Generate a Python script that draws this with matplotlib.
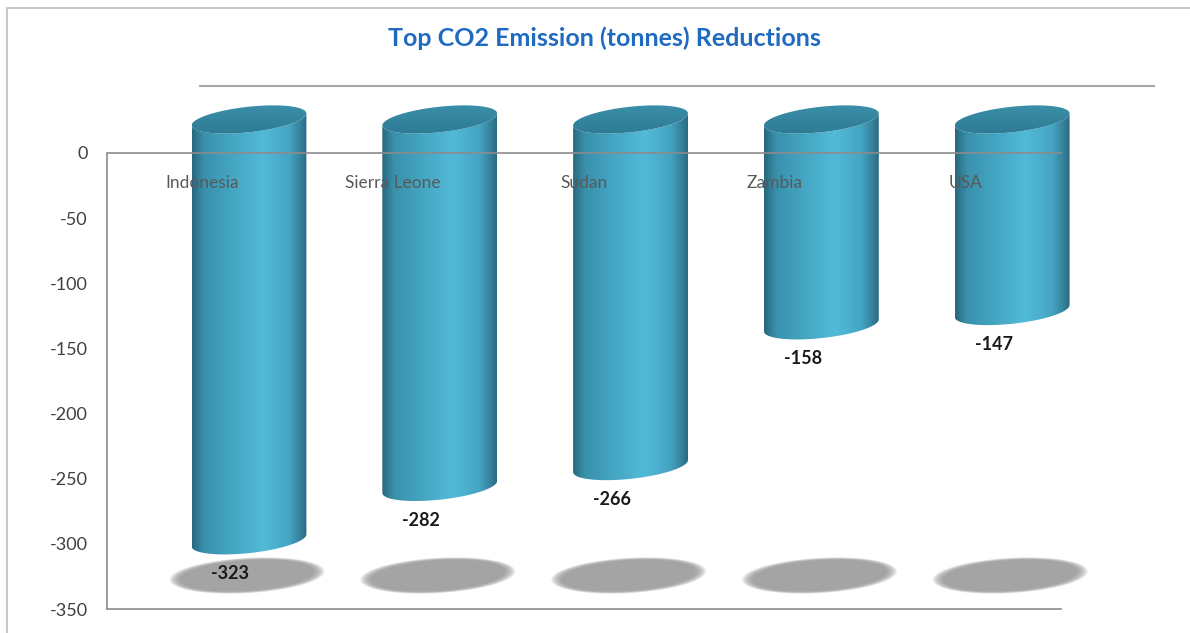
import numpy as np
import matplotlib
matplotlib.use('Agg')
import matplotlib.pyplot as plt
from matplotlib.patches import Polygon, Rectangle
from matplotlib.colors import LinearSegmentedColormap

plt.rcParams['font.family'] = ['Lato', 'DejaVu Sans']

# Data
countries = ['Indonesia', 'Sierra Leone', 'Sudan', 'Zambia', 'USA']
reductions = [-323, -282, -266, -158, -147]
y_ticks = [0, -50, -100, -150, -200, -250, -300, -350]

# 3D look (data units)
depth_x = 0.244   # half depth shift to the right
depth_y = 25.7    # half depth shift upward
half_w = 0.301    # cylinder radius (x)
half_h = 9.8      # ellipse half height (y)
tilt = 4.6        # right side of ellipses sits higher

side_cmap = LinearSegmentedColormap.from_list('side', [
    (0.0, '#28687e'), (0.1, '#3990ab'), (0.35, '#44a6c3'), (0.62, '#52bad8'),
    (0.85, '#44a4c2'), (0.95, '#357f99'), (1.0, '#2a6a80')])
top_cmap = LinearSegmentedColormap.from_list('top', ['#2c7891', '#3d92ac'])


def ellipse(xc, yc, a, b, s, t):
    return np.column_stack([xc + a * np.cos(t), yc + b * np.sin(t) + s * np.cos(t)])


fig = plt.figure(figsize=(11.9, 6.33), dpi=100)
ax = fig.add_axes([107 / 1190, 24 / 633, (1170 - 107) / 1190, (609 - 20) / 633])

# outer chart frame
fig.patches.append(Rectangle((7 / 1190, -0.1), 1.2, 1.1 - 8 / 633, transform=fig.transFigure,
                             fill=False, edgecolor='#c8c8c8', linewidth=1.5))

# back floor line and zero line
ax.plot([2 * depth_x, 5 + 2 * depth_x], [2 * depth_y, 2 * depth_y], color='#a6a6a6', lw=1.5, zorder=1)
ax.plot([0, 5], [0, 0], color='#8c8c8c', lw=1.2, zorder=3)

for i, (name, val) in enumerate(zip(countries, reductions)):
    xc = i + 0.5 + depth_x

    # shadow on the floor
    for k in range(8):
        f = 1.04 - k * 0.02
        pts = ellipse(xc - 0.01, -350 + depth_y, 0.39 * f, 13 * f, 3.2, np.linspace(0, 2 * np.pi, 80))
        ax.add_patch(Polygon(pts, closed=True, facecolor='#8f8f8f', edgecolor='none', alpha=0.18, zorder=1))

    # cylinder side
    top_y = depth_y
    bot_y = val + depth_y
    bot = ellipse(xc, bot_y, half_w, half_h, tilt, np.linspace(np.pi, 2 * np.pi, 80))
    top = ellipse(xc, top_y, half_w, half_h, tilt, np.linspace(2 * np.pi, np.pi, 80))
    side = Polygon(np.vstack([bot, top]), closed=True, facecolor='none', edgecolor='none')
    ax.add_patch(side)
    grad = np.linspace(0, 1, 256).reshape(1, -1)
    im = ax.imshow(grad, cmap=side_cmap, aspect='auto', interpolation='bilinear',
                   extent=(xc - half_w, xc + half_w, bot_y - half_h - tilt, top_y + half_h + tilt),
                   zorder=2)
    im.set_clip_path(side)

    # cylinder top
    face = Polygon(ellipse(xc, top_y, half_w, half_h, tilt, np.linspace(0, 2 * np.pi, 100)),
                   closed=True, facecolor='none', edgecolor='none')
    ax.add_patch(face)
    tgrad = np.linspace(0, 1, 64).reshape(-1, 1)
    im2 = ax.imshow(tgrad, cmap=top_cmap, aspect='auto', interpolation='bilinear', origin='lower',
                    extent=(xc - half_w, xc + half_w, top_y - half_h - tilt, top_y + half_h + tilt),
                    zorder=2.1)
    im2.set_clip_path(face)

    # labels
    ax.text(i + 0.5, -23, name, ha='center', va='center', fontsize=12.5, color='#595959', zorder=4)
    ax.text(i + 0.5 + 0.147, val, str(val), ha='center', va='center', fontsize=13,
            fontweight='bold', color='#1a1a1a', zorder=4)

ax.set_xlim(0, 5 + (1170 - 1061) / 190.8)
ax.set_ylim(-350, -350 + 589 / 1.303)

ax.set_yticks(y_ticks)
ax.set_yticklabels([str(v) for v in y_ticks], fontsize=13, color='#404040')
ax.tick_params(axis='y', length=0, pad=14)
ax.set_xticks([])
for sp in ['top', 'right']:
    ax.spines[sp].set_visible(False)
ax.spines['left'].set_bounds(-350, 0)
ax.spines['bottom'].set_bounds(0, 5)
for sp in ['left', 'bottom']:
    ax.spines[sp].set_color('#8c8c8c')
    ax.spines[sp].set_linewidth(1.2)
ax.patch.set_alpha(0)

fig.text(604 / 1190, 1 - 38 / 633, 'Top CO2 Emission (tonnes) Reductions', ha='center', va='center',
         fontsize=18, fontweight='bold', color='#1f6bc1')

fig.savefig('out.png', dpi=100)
